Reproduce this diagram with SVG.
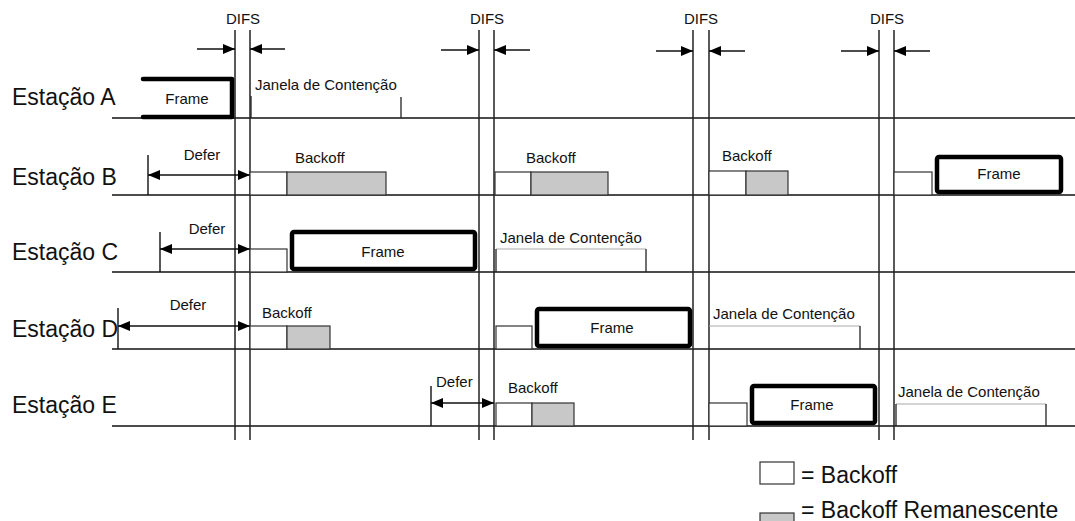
<svg xmlns="http://www.w3.org/2000/svg" width="1075" height="521" viewBox="0 0 1075 521">
<defs>
<style>
text{font-family:"Liberation Sans",Arial,sans-serif;fill:#111}
.st{font-size:23px}
.sm{font-size:15px}
.lg{font-size:23px}
.mid{text-anchor:middle}
.ln{stroke:#111;stroke-width:1.4;fill:none}
.vl{stroke:#222;stroke-width:1.5;fill:none}
.ar{stroke:#111;stroke-width:1.3;fill:none;marker-end:url(#ah)}
.dar{stroke:#111;stroke-width:1.3;fill:none;marker-start:url(#ah);marker-end:url(#ah)}
.bw{fill:#fff;stroke:#333;stroke-width:1.2}
.bg{fill:#c8c8c8;stroke:#333;stroke-width:1.2}
.fr{fill:#fff;stroke:#000;stroke-width:4.5;stroke-linejoin:round;stroke-linecap:round}
.jt{stroke:#aaa;stroke-width:1.2;fill:none}
.je{stroke:#222;stroke-width:1.3;fill:none}
</style>
<marker id="ah" viewBox="0 0 12 10" refX="12" refY="5" markerWidth="12" markerHeight="10" markerUnits="userSpaceOnUse" orient="auto-start-reverse">
<path d="M0,0 L12,5 L0,10 z" fill="#000"/>
</marker>
</defs>
<rect width="1075" height="521" fill="#fff"/>

<g id="timelines">
<line class="ln" x1="112" y1="118" x2="1075" y2="118"/>
<line class="ln" x1="112" y1="195" x2="1075" y2="195"/>
<line class="ln" x1="112" y1="272" x2="1075" y2="272"/>
<line class="ln" x1="112" y1="349" x2="1075" y2="349"/>
<line class="ln" x1="112" y1="426" x2="1075" y2="426"/>
</g>

<g id="station-labels">
<text class="st" x="12" y="105">Estação A</text>
<text class="st" x="12" y="185">Estação B</text>
<text class="st" x="12" y="260">Estação C</text>
<text class="st" x="12" y="337">Estação D</text>
<text class="st" x="12" y="413">Estação E</text>
</g>

<g id="difs">
<line class="vl" x1="235" y1="30" x2="235" y2="440"/>
<line class="vl" x1="250" y1="30" x2="250" y2="440"/>
<line class="vl" x1="479" y1="30" x2="479" y2="440"/>
<line class="vl" x1="494" y1="30" x2="494" y2="440"/>
<line class="vl" x1="693" y1="30" x2="693" y2="440"/>
<line class="vl" x1="709" y1="30" x2="709" y2="440"/>
<line class="vl" x1="879" y1="30" x2="879" y2="440"/>
<line class="vl" x1="894" y1="30" x2="894" y2="440"/>
<text class="sm mid" x="243" y="24">DIFS</text>
<text class="sm mid" x="487" y="24">DIFS</text>
<text class="sm mid" x="701" y="24">DIFS</text>
<text class="sm mid" x="887" y="24">DIFS</text>
</g>

<g id="connectors">
<line class="ar" x1="197" y1="49" x2="235" y2="49"/>
<line class="ar" x1="285" y1="49" x2="250" y2="49"/>
<line class="ar" x1="441" y1="50" x2="479" y2="50"/>
<line class="ar" x1="530" y1="50" x2="494" y2="50"/>
<line class="ar" x1="656" y1="51" x2="693" y2="51"/>
<line class="ar" x1="745" y1="51" x2="709" y2="51"/>
<line class="ar" x1="841" y1="51" x2="879" y2="51"/>
<line class="ar" x1="930" y1="51" x2="894" y2="51"/>
<line class="dar" x1="148" y1="175" x2="250" y2="175"/>
<line class="dar" x1="160" y1="249" x2="250" y2="249"/>
<line class="dar" x1="118" y1="326" x2="250" y2="326"/>
<line class="dar" x1="431" y1="403" x2="494" y2="403"/>
</g>

<g id="station-a">
<path class="fr" d="M143,79 H232 V117 H143" fill="none"/>
<text class="sm mid" x="187" y="104">Frame</text>
<line class="je" x1="251" y1="96" x2="251" y2="118"/>
<line class="je" x1="401" y1="97" x2="401" y2="118"/>
<text class="sm" x="255" y="90">Janela de Contenção</text>
</g>

<g id="station-b">
<line class="ln" x1="148" y1="155" x2="148" y2="195"/>
<text class="sm mid" x="202" y="160">Defer</text>
<rect class="bw" x="250" y="172" width="37" height="23"/>
<rect class="bg" x="287" y="172" width="99" height="23"/>
<text class="sm" x="295" y="163">Backoff</text>
<rect class="bw" x="495" y="172" width="36" height="23"/>
<rect class="bg" x="531" y="172" width="77" height="23"/>
<text class="sm" x="526" y="163">Backoff</text>
<rect class="bw" x="709" y="171" width="37" height="24"/>
<rect class="bg" x="746" y="171" width="42" height="24"/>
<text class="sm" x="722" y="161">Backoff</text>
<rect class="bw" x="894" y="172" width="38" height="23"/>
<rect class="fr" x="937" y="157" width="124" height="35" rx="2"/>
<text class="sm mid" x="999" y="179">Frame</text>
</g>

<g id="station-c">
<line class="ln" x1="160" y1="232" x2="160" y2="272"/>
<text class="sm mid" x="207" y="234">Defer</text>
<rect class="bw" x="250" y="249" width="37" height="23"/>
<rect class="fr" x="292" y="232" width="183" height="37" rx="2"/>
<text class="sm mid" x="383" y="257">Frame</text>
<line class="jt" x1="496" y1="249" x2="646" y2="249"/>
<line class="je" x1="496" y1="249" x2="496" y2="272"/>
<line class="je" x1="646" y1="249" x2="646" y2="272"/>
<text class="sm" x="500" y="243">Janela de Contenção</text>
</g>

<g id="station-d">
<line class="ln" x1="118" y1="308" x2="118" y2="349"/>
<text class="sm mid" x="188" y="310">Defer</text>
<rect class="bw" x="250" y="326" width="37" height="23"/>
<rect class="bg" x="287" y="326" width="43" height="23"/>
<text class="sm" x="262" y="318">Backoff</text>
<rect class="bw" x="496" y="326" width="36" height="23"/>
<rect class="fr" x="537" y="309" width="153" height="37" rx="2"/>
<text class="sm mid" x="612" y="333">Frame</text>
<line class="jt" x1="709" y1="326" x2="860" y2="326"/>
<line class="je" x1="860" y1="326" x2="860" y2="349"/>
<text class="sm" x="713" y="319">Janela de Contenção</text>
</g>

<g id="station-e">
<line class="ln" x1="431" y1="386" x2="431" y2="426"/>
<text class="sm" x="436" y="387">Defer</text>
<rect class="bw" x="496" y="403" width="36" height="23"/>
<rect class="bg" x="532" y="403" width="42" height="23"/>
<text class="sm" x="508" y="393">Backoff</text>
<rect class="bw" x="709" y="403" width="38" height="23"/>
<rect class="fr" x="752" y="386" width="123" height="37" rx="2"/>
<text class="sm mid" x="812" y="410">Frame</text>
<line class="jt" x1="896" y1="404" x2="1046" y2="404"/>
<line class="je" x1="896" y1="404" x2="896" y2="426"/>
<line class="je" x1="1046" y1="404" x2="1046" y2="426"/>
<text class="sm" x="898" y="397">Janela de Contenção</text>
</g>

<g id="legend">
<rect class="bw" x="760" y="462" width="34" height="22"/>
<text class="lg" x="801" y="483">= Backoff</text>
<rect class="bg" x="760" y="513" width="34" height="14"/>
<text class="lg" x="801" y="518">= Backoff Remanescente</text>
</g>
</svg>
